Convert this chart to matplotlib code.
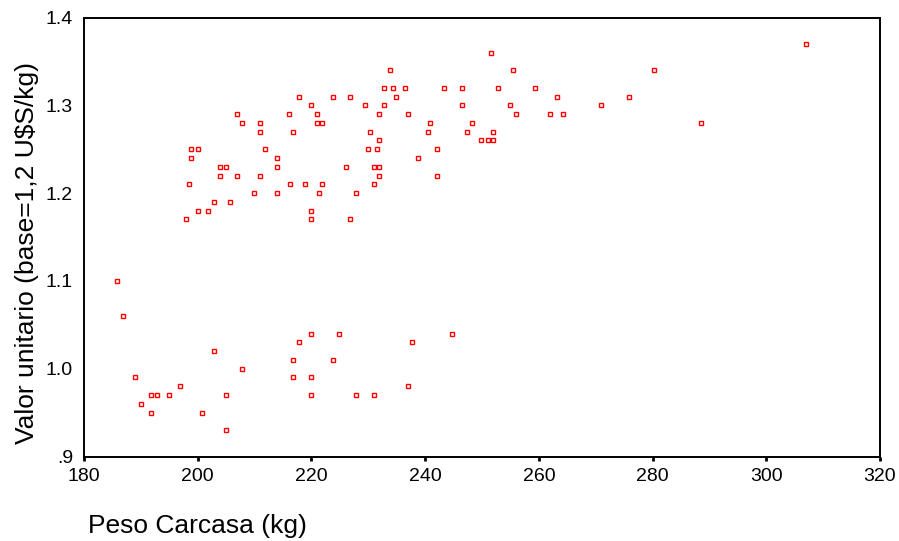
import matplotlib
matplotlib.use("Agg")
import matplotlib.pyplot as plt

# Peso Carcasa (kg)
peso = [
    185.8, 186.9, 202.9, 207.8, 189.0, 196.8, 191.8, 192.9, 195.0, 205.0, 190.0, 191.8, 200.8, 205.0,
    219.9, 224.9, 244.8, 217.9, 237.7, 216.8, 223.8, 216.8, 219.9, 237.0, 219.9, 227.8, 231.0,
    217.8, 223.8, 226.8, 220.0, 229.4,
    206.9, 216.0, 221.0,
    207.8, 211.0, 221.0, 221.8,
    211.0, 216.8, 230.3,
    198.9, 200.0, 211.8, 229.9,
    198.9, 213.9,
    203.9, 205.0, 213.9, 226.0,
    203.9, 206.9, 211.0,
    198.4, 216.2, 218.9, 221.8,
    209.9, 213.9, 221.3, 227.8,
    202.9, 205.7,
    200.0, 201.8, 220.0,
    197.9, 220.0, 226.8,
    251.5, 233.9, 255.4,
    232.8, 234.4, 236.5, 243.3, 246.5, 252.8,
    234.9,
    232.8, 246.5, 254.9,
    231.8, 237.0, 255.9,
    240.9, 248.3,
    240.5, 247.3, 252.0,
    231.8, 249.9, 251.0, 252.0,
    231.5, 242.0,
    238.8,
    231.0, 231.8,
    231.8, 242.0,
    231.0,
    306.9, 280.3, 259.3, 263.2, 275.8, 270.9, 262.0, 264.3, 288.5,
]

# Valor unitario (base=1,2 U$S/kg)
valor = [
    1.10, 1.06, 1.02, 1.00, 0.99, 0.98, 0.97, 0.97, 0.97, 0.97, 0.96, 0.95, 0.95, 0.93,
    1.04, 1.04, 1.04, 1.03, 1.03, 1.01, 1.01, 0.99, 0.99, 0.98, 0.97, 0.97, 0.97,
    1.31, 1.31, 1.31, 1.30, 1.30,
    1.29, 1.29, 1.29,
    1.28, 1.28, 1.28, 1.28,
    1.27, 1.27, 1.27,
    1.25, 1.25, 1.25, 1.25,
    1.24, 1.24,
    1.23, 1.23, 1.23, 1.23,
    1.22, 1.22, 1.22,
    1.21, 1.21, 1.21, 1.21,
    1.20, 1.20, 1.20, 1.20,
    1.19, 1.19,
    1.18, 1.18, 1.18,
    1.17, 1.17, 1.17,
    1.36, 1.34, 1.34,
    1.32, 1.32, 1.32, 1.32, 1.32, 1.32,
    1.31,
    1.30, 1.30, 1.30,
    1.29, 1.29, 1.29,
    1.28, 1.28,
    1.27, 1.27, 1.27,
    1.26, 1.26, 1.26, 1.26,
    1.25, 1.25,
    1.24,
    1.23, 1.23,
    1.22, 1.22,
    1.21,
    1.37, 1.34, 1.32, 1.31, 1.31, 1.30, 1.29, 1.29, 1.28,
]

x_ticks = [180, 200, 220, 240, 260, 280, 300, 320]
y_ticks = [0.9, 1.0, 1.1, 1.2, 1.3, 1.4]
y_tick_labels = [".9", "1.0", "1.1", "1.2", "1.3", "1.4"]

plt.rcParams['font.family'] = ['Liberation Sans', 'DejaVu Sans']

fig = plt.figure(figsize=(8.99, 5.41), dpi=100)
ax = fig.add_axes([84 / 899, 1 - 456.5 / 541, (880 - 84) / 899, (456.5 - 17.5) / 541])

ax.plot(peso, valor, linestyle='none', marker='s', markersize=3.4,
        markerfacecolor='white', markeredgecolor='#ff0000', markeredgewidth=1.0)

ax.set_xlim(180, 320)
ax.set_ylim(0.9, 1.4)
ax.set_xticks(x_ticks)
ax.set_xticklabels([str(t) for t in x_ticks])
ax.set_yticks(y_ticks)
ax.set_yticklabels(y_tick_labels)

ax.tick_params(axis='x', direction='out', length=3, width=2, labelsize=14, pad=5, color='black')
ax.tick_params(axis='y', length=0, labelsize=14, pad=8)

for s in ax.spines.values():
    s.set_linewidth(1.4)
    s.set_color('black')

fig.text(88 / 899, 1 - 526 / 541, "Peso Carcasa (kg)", fontsize=19,
         ha='left', va='center')
fig.text(27 / 899, 1 - 253 / 541, "Valor unitario (base=1,2 U$S/kg)", fontsize=19,
         rotation=90, ha='center', va='center')

fig.savefig("out.png", dpi=100, facecolor='white')
